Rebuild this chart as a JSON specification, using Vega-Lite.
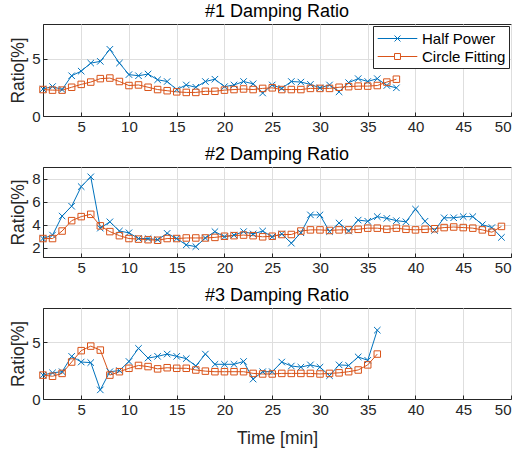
{
  "$schema": "https://vega.github.io/schema/vega-lite/v6.json",
  "padding": {"left": 9, "top": 2, "right": 2, "bottom": 2},
  "config": {
    "font": "Liberation Sans",
    "view": {"stroke": "#262626", "strokeWidth": 1},
    "axis": {"labelFontSize": 15, "titleFontSize": 17.5, "titleFontWeight": "normal", "labelColor": "#262626", "titleColor": "#262626", "domainColor": "#262626", "gridColor": "#dedede", "ticks": true, "tickSize": -4, "tickColor": "#262626", "labelPadding": 7},
    "title": {"fontSize": 18, "fontWeight": "normal", "color": "#000000", "offset": 3},
    "concat": {"spacing": 10}
  },
  "datasets": {
    "p1": [
      {"t":1,"Half Power":2.35,"Circle Fitting":2.3},{"t":2,"Half Power":2.56,"Circle Fitting":2.25},{"t":3,"Half Power":2.3,"Circle Fitting":2.25},{"t":4,"Half Power":3.5,"Circle Fitting":2.5},{"t":5,"Half Power":3.9,"Circle Fitting":2.75},{"t":6,"Half Power":4.6,"Circle Fitting":2.95},{"t":7,"Half Power":4.75,"Circle Fitting":3.25},{"t":8,"Half Power":5.8,"Circle Fitting":3.3},{"t":9,"Half Power":4.6,"Circle Fitting":3.0},{"t":10,"Half Power":3.6,"Circle Fitting":2.65},
      {"t":11,"Half Power":3.5,"Circle Fitting":2.7},{"t":12,"Half Power":3.65,"Circle Fitting":2.5},{"t":13,"Half Power":3.15,"Circle Fitting":2.3},{"t":14,"Half Power":3.0,"Circle Fitting":2.2},{"t":15,"Half Power":2.3,"Circle Fitting":2.1},{"t":16,"Half Power":2.7,"Circle Fitting":2.05},{"t":17,"Half Power":2.5,"Circle Fitting":2.05},{"t":18,"Half Power":3.0,"Circle Fitting":2.15},{"t":19,"Half Power":3.2,"Circle Fitting":2.15},{"t":20,"Half Power":2.55,"Circle Fitting":2.25},
      {"t":21,"Half Power":2.7,"Circle Fitting":2.3},{"t":22,"Half Power":3.0,"Circle Fitting":2.35},{"t":23,"Half Power":2.8,"Circle Fitting":2.3},{"t":24,"Half Power":2.0,"Circle Fitting":2.4},{"t":25,"Half Power":2.7,"Circle Fitting":2.45},{"t":26,"Half Power":2.4,"Circle Fitting":2.3},{"t":27,"Half Power":3.0,"Circle Fitting":2.3},{"t":28,"Half Power":2.95,"Circle Fitting":2.3},{"t":29,"Half Power":2.75,"Circle Fitting":2.4},{"t":30,"Half Power":2.45,"Circle Fitting":2.4},
      {"t":31,"Half Power":2.7,"Circle Fitting":2.4},{"t":32,"Half Power":2.1,"Circle Fitting":2.5},{"t":33,"Half Power":2.9,"Circle Fitting":2.55},{"t":34,"Half Power":3.25,"Circle Fitting":2.6},{"t":35,"Half Power":3.0,"Circle Fitting":2.6},{"t":36,"Half Power":3.25,"Circle Fitting":2.65},{"t":37,"Half Power":2.65,"Circle Fitting":2.95},{"t":38,"Half Power":2.45,"Circle Fitting":3.2}
    ],
    "p2": [
      {"t":1,"Half Power":2.8,"Circle Fitting":2.8},{"t":2,"Half Power":3.1,"Circle Fitting":2.8},{"t":3,"Half Power":4.75,"Circle Fitting":3.45},{"t":4,"Half Power":5.6,"Circle Fitting":4.35},{"t":5,"Half Power":7.3,"Circle Fitting":4.7},{"t":6,"Half Power":8.15,"Circle Fitting":4.9},{"t":7,"Half Power":3.7,"Circle Fitting":3.9},{"t":8,"Half Power":4.25,"Circle Fitting":3.4},{"t":9,"Half Power":3.45,"Circle Fitting":3.05},{"t":10,"Half Power":3.3,"Circle Fitting":2.8},
      {"t":11,"Half Power":2.8,"Circle Fitting":2.75},{"t":12,"Half Power":2.8,"Circle Fitting":2.7},{"t":13,"Half Power":2.7,"Circle Fitting":2.65},{"t":14,"Half Power":3.25,"Circle Fitting":2.8},{"t":15,"Half Power":2.8,"Circle Fitting":2.8},{"t":16,"Half Power":2.25,"Circle Fitting":2.85},{"t":17,"Half Power":2.1,"Circle Fitting":2.85},{"t":18,"Half Power":2.85,"Circle Fitting":2.85},{"t":19,"Half Power":3.4,"Circle Fitting":2.9},{"t":20,"Half Power":2.95,"Circle Fitting":3.0},
      {"t":21,"Half Power":3.1,"Circle Fitting":3.05},{"t":22,"Half Power":3.4,"Circle Fitting":3.1},{"t":23,"Half Power":3.2,"Circle Fitting":3.05},{"t":24,"Half Power":3.45,"Circle Fitting":2.95},{"t":25,"Half Power":2.95,"Circle Fitting":3.0},{"t":26,"Half Power":3.2,"Circle Fitting":3.15},{"t":27,"Half Power":2.4,"Circle Fitting":3.15},{"t":28,"Half Power":3.3,"Circle Fitting":3.45},{"t":29,"Half Power":4.85,"Circle Fitting":3.55},{"t":30,"Half Power":4.85,"Circle Fitting":3.55},
      {"t":31,"Half Power":3.4,"Circle Fitting":3.5},{"t":32,"Half Power":4.15,"Circle Fitting":3.55},{"t":33,"Half Power":3.45,"Circle Fitting":3.55},{"t":34,"Half Power":4.4,"Circle Fitting":3.6},{"t":35,"Half Power":4.3,"Circle Fitting":3.7},{"t":36,"Half Power":4.7,"Circle Fitting":3.7},{"t":37,"Half Power":4.55,"Circle Fitting":3.6},{"t":38,"Half Power":4.35,"Circle Fitting":3.7},{"t":39,"Half Power":4.25,"Circle Fitting":3.6},{"t":40,"Half Power":5.35,"Circle Fitting":3.55},
      {"t":41,"Half Power":4.3,"Circle Fitting":3.6},{"t":42,"Half Power":3.5,"Circle Fitting":3.65},{"t":43,"Half Power":4.6,"Circle Fitting":3.75},{"t":44,"Half Power":4.6,"Circle Fitting":3.8},{"t":45,"Half Power":4.7,"Circle Fitting":3.75},{"t":46,"Half Power":4.7,"Circle Fitting":3.7},{"t":47,"Half Power":4.0,"Circle Fitting":3.55},{"t":48,"Half Power":3.75,"Circle Fitting":3.35},{"t":49,"Half Power":2.9,"Circle Fitting":3.85}
    ],
    "p3": [
      {"t":1,"Half Power":2.1,"Circle Fitting":2.1},{"t":2,"Half Power":2.3,"Circle Fitting":2.0},{"t":3,"Half Power":2.4,"Circle Fitting":2.25},{"t":4,"Half Power":3.75,"Circle Fitting":3.25},{"t":5,"Half Power":3.25,"Circle Fitting":4.25},{"t":6,"Half Power":3.2,"Circle Fitting":4.65},{"t":7,"Half Power":0.8,"Circle Fitting":4.3},{"t":8,"Half Power":2.4,"Circle Fitting":2.1},{"t":9,"Half Power":2.5,"Circle Fitting":2.4},{"t":10,"Half Power":3.3,"Circle Fitting":2.7},
      {"t":11,"Half Power":4.45,"Circle Fitting":2.95},{"t":12,"Half Power":3.6,"Circle Fitting":2.85},{"t":13,"Half Power":3.75,"Circle Fitting":2.65},{"t":14,"Half Power":3.95,"Circle Fitting":2.75},{"t":15,"Half Power":3.75,"Circle Fitting":2.7},{"t":16,"Half Power":3.55,"Circle Fitting":2.7},{"t":17,"Half Power":2.9,"Circle Fitting":2.55},{"t":18,"Half Power":3.95,"Circle Fitting":2.45},{"t":19,"Half Power":3.05,"Circle Fitting":2.4},{"t":20,"Half Power":3.05,"Circle Fitting":2.4},
      {"t":21,"Half Power":3.05,"Circle Fitting":2.4},{"t":22,"Half Power":3.3,"Circle Fitting":2.4},{"t":23,"Half Power":1.75,"Circle Fitting":2.25},{"t":24,"Half Power":2.4,"Circle Fitting":2.2},{"t":25,"Half Power":2.4,"Circle Fitting":2.2},{"t":26,"Half Power":3.25,"Circle Fitting":2.25},{"t":27,"Half Power":2.9,"Circle Fitting":2.25},{"t":28,"Half Power":2.8,"Circle Fitting":2.25},{"t":29,"Half Power":3.0,"Circle Fitting":2.25},{"t":30,"Half Power":2.8,"Circle Fitting":2.2},
      {"t":31,"Half Power":2.05,"Circle Fitting":2.25},{"t":32,"Half Power":3.0,"Circle Fitting":2.3},{"t":33,"Half Power":2.95,"Circle Fitting":2.4},{"t":34,"Half Power":3.7,"Circle Fitting":2.55},{"t":35,"Half Power":3.4,"Circle Fitting":3.0},{"t":36,"Half Power":6.05,"Circle Fitting":3.95}
    ]
  },
  "vconcat": [
    {
      "title": "#1 Damping Ratio",
      "width": 468, "height": 92,
      "data": {"name": "p1"},
      "transform": [{"fold": ["Half Power", "Circle Fitting"], "as": ["series", "v"]}],
      "encoding": {
        "x": {"field": "t", "type": "quantitative", "scale": {"domain": [1, 50], "nice": false, "zero": false}, "axis": {"values": [5,10,15,20,25,30,35,40,45,50], "title": null}},
        "y": {"field": "v", "type": "quantitative", "scale": {"domain": [0, 8], "nice": false}, "axis": {"values": [0, 5], "title": "Ratio[%]"}}
      },
      "layer": [
        {"mark": {"type": "line", "strokeWidth": 1},
         "encoding": {"color": {"field": "series", "type": "nominal", "scale": {"domain": ["Half Power", "Circle Fitting"], "range": ["#0072BD", "#D95319"]},
          "legend": {"title": null, "orient": "top-right", "offset": 2, "fillColor": "white", "strokeColor": "#262626", "padding": 3, "rowPadding": 0, "labelFontSize": 15, "labelColor": "#000000", "symbolSize": 324, "symbolOffset": 12, "labelOffset": 15, "symbolStrokeWidth": 1,
            "encode": {"symbols": {"update": {"shape": {"signal": "datum.value === 'Half Power' ? 'M-2.2,0H2.2M-0.33,-0.33L0.33,0.33M-0.33,0.33L0.33,-0.33' : 'M-2.2,0H-0.33M0.33,0H2.2M-0.33,-0.33H0.33V0.33H-0.33Z'"}, "fill": {"value": "transparent"}, "strokeWidth": {"value": 1}}}}}}}},
        {"mark": {"type": "point", "filled": false, "strokeWidth": 1, "size": 42, "opacity": 1},
         "encoding": {
           "stroke": {"field": "series", "type": "nominal", "scale": {"domain": ["Half Power", "Circle Fitting"], "range": ["#0072BD", "#D95319"]}, "legend": null},
           "shape": {"field": "series", "type": "nominal", "scale": {"domain": ["Half Power", "Circle Fitting"], "range": ["M-1,-1L1,1M-1,1L1,-1", "square"]}, "legend": null}}}
      ]
    },
    {
      "title": "#2 Damping Ratio",
      "width": 468, "height": 90,
      "data": {"name": "p2"},
      "transform": [{"fold": ["Half Power", "Circle Fitting"], "as": ["series", "v"]}],
      "encoding": {
        "x": {"field": "t", "type": "quantitative", "scale": {"domain": [1, 50], "nice": false, "zero": false}, "axis": {"values": [5,10,15,20,25,30,35,40,45,50], "title": null}},
        "y": {"field": "v", "type": "quantitative", "scale": {"domain": [1.2, 9], "nice": false, "zero": false}, "axis": {"values": [2, 4, 6, 8], "title": "Ratio[%]"}}
      },
      "layer": [
        {"mark": {"type": "line", "strokeWidth": 1},
         "encoding": {"color": {"field": "series", "type": "nominal", "scale": {"domain": ["Half Power", "Circle Fitting"], "range": ["#0072BD", "#D95319"]}, "legend": null}}},
        {"mark": {"type": "point", "filled": false, "strokeWidth": 1, "size": 42, "opacity": 1},
         "encoding": {
           "stroke": {"field": "series", "type": "nominal", "scale": {"domain": ["Half Power", "Circle Fitting"], "range": ["#0072BD", "#D95319"]}, "legend": null},
           "shape": {"field": "series", "type": "nominal", "scale": {"domain": ["Half Power", "Circle Fitting"], "range": ["M-1,-1L1,1M-1,1L1,-1", "square"]}, "legend": null}}}
      ]
    },
    {
      "title": "#3 Damping Ratio",
      "width": 468, "height": 91,
      "data": {"name": "p3"},
      "transform": [{"fold": ["Half Power", "Circle Fitting"], "as": ["series", "v"]}],
      "encoding": {
        "x": {"field": "t", "type": "quantitative", "scale": {"domain": [1, 50], "nice": false, "zero": false}, "axis": {"values": [5,10,15,20,25,30,35,40,45,50], "title": "Time [min]", "titlePadding": 12}},
        "y": {"field": "v", "type": "quantitative", "scale": {"domain": [0, 8], "nice": false}, "axis": {"values": [0, 5], "title": "Ratio[%]"}}
      },
      "layer": [
        {"mark": {"type": "line", "strokeWidth": 1},
         "encoding": {"color": {"field": "series", "type": "nominal", "scale": {"domain": ["Half Power", "Circle Fitting"], "range": ["#0072BD", "#D95319"]}, "legend": null}}},
        {"mark": {"type": "point", "filled": false, "strokeWidth": 1, "size": 42, "opacity": 1},
         "encoding": {
           "stroke": {"field": "series", "type": "nominal", "scale": {"domain": ["Half Power", "Circle Fitting"], "range": ["#0072BD", "#D95319"]}, "legend": null},
           "shape": {"field": "series", "type": "nominal", "scale": {"domain": ["Half Power", "Circle Fitting"], "range": ["M-1,-1L1,1M-1,1L1,-1", "square"]}, "legend": null}}}
      ]
    }
  ],
  "resolve": {"legend": {"color": "independent"}}
}
